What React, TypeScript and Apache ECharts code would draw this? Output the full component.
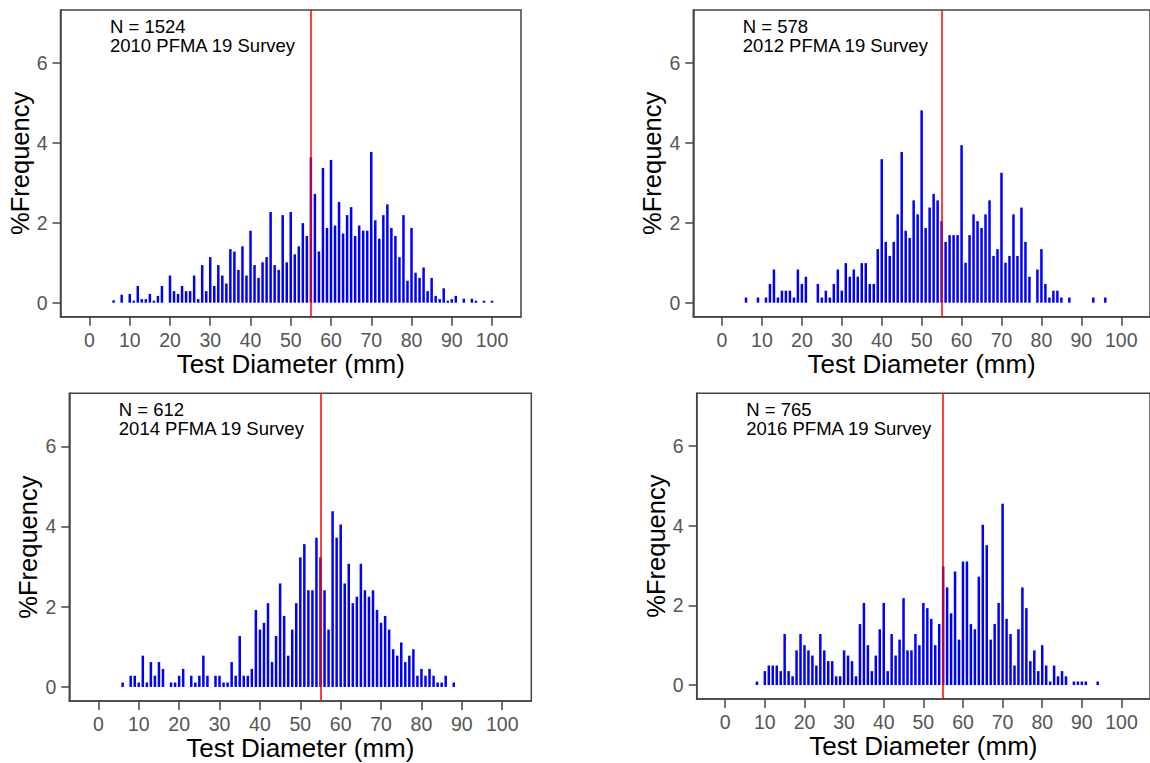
import React, { useEffect, useRef } from "react";
import * as echarts from "echarts";

// ---- Data (mm test diameter, % frequency) ----
const diam2010 = [6, 8, 10, 11, 12, 13, 14, 15, 16, 17, 18, 20, 21, 22, 23, 24, 25, 26, 27, 28, 29, 30, 31, 32, 33, 34, 35, 36, 37, 38, 39, 40, 41, 42, 43, 44, 45, 46, 47, 48, 49, 50, 51, 52, 53, 54, 55, 56, 57, 58, 59, 60, 61, 62, 63, 64, 65, 66, 67, 68, 69, 70, 71, 72, 73, 74, 75, 76, 77, 78, 79, 80, 81, 82, 83, 84, 85, 86, 87, 88, 89, 90, 91, 93, 95, 96, 98, 100];
const freq2010 = [0.06, 0.2, 0.22, 0.05, 0.42, 0.09, 0.09, 0.22, 0.05, 0.17, 0.42, 0.68, 0.29, 0.22, 0.42, 0.29, 0.29, 0.68, 0.09, 0.94, 0.29, 1.14, 0.42, 0.94, 0.68, 0.48, 1.34, 1.28, 0.82, 1.41, 0.68, 1.8, 0.94, 0.62, 1.01, 1.14, 2.27, 0.94, 0.82, 2.19, 1.01, 2.27, 1.21, 1.41, 1.99, 1.67, 3.63, 2.72, 1.28, 3.37, 1.87, 3.57, 1.93, 2.52, 1.73, 2.19, 2.39, 1.67, 1.93, 1.8, 1.8, 3.77, 2.06, 1.6, 2.19, 2.46, 1.87, 1.67, 1.14, 2.19, 0.55, 1.87, 0.75, 0.62, 0.88, 0.29, 0.62, 0.17, 0.09, 0.36, 0.05, 0.09, 0.17, 0.1, 0.1, 0.05, 0.05, 0.05];

const diam2012 = [6, 9, 11, 12, 13, 14, 15, 16, 17, 18, 19, 20, 21, 24, 25, 26, 27, 28, 29, 30, 31, 32, 33, 34, 35, 36, 37, 38, 39, 40, 41, 42, 43, 44, 45, 46, 47, 48, 49, 50, 51, 52, 53, 54, 55, 56, 57, 58, 59, 60, 61, 62, 63, 64, 65, 66, 67, 68, 69, 70, 71, 72, 73, 74, 75, 76, 77, 79, 80, 81, 82, 83, 84, 85, 87, 93, 96];
const freq2012 = [0.13, 0.13, 0.13, 0.47, 0.83, 0.13, 0.3, 0.3, 0.3, 0.13, 0.83, 0.47, 0.65, 0.47, 0.13, 0.3, 0.13, 0.47, 0.83, 0.3, 0.99, 0.65, 0.83, 0.65, 0.99, 0.99, 0.47, 0.47, 1.34, 3.59, 1.52, 1.17, 1.52, 2.21, 3.77, 1.8, 1.62, 2.56, 2.21, 4.81, 1.87, 2.38, 2.72, 2.56, 2.04, 1.52, 1.69, 1.69, 1.69, 3.94, 1.0, 1.69, 2.21, 2.04, 1.87, 2.21, 2.56, 1.17, 1.34, 3.25, 1.0, 1.17, 2.21, 1.17, 2.38, 1.52, 0.65, 0.83, 1.34, 0.47, 0.13, 0.3, 0.3, 0.13, 0.13, 0.13, 0.13];

const diam2014 = [6, 8, 9, 10, 11, 12, 13, 14, 15, 16, 18, 19, 20, 21, 23, 24, 25, 26, 27, 29, 30, 31, 32, 33, 34, 35, 36, 37, 38, 39, 40, 41, 42, 43, 44, 45, 46, 47, 48, 49, 50, 51, 52, 53, 54, 55, 56, 57, 58, 59, 60, 61, 62, 63, 64, 65, 66, 67, 68, 69, 70, 71, 72, 73, 74, 75, 76, 77, 78, 79, 80, 81, 82, 83, 84, 85, 86, 88];
const freq2014 = [0.11, 0.28, 0.28, 0.11, 0.78, 0.11, 0.62, 0.28, 0.62, 0.45, 0.11, 0.11, 0.28, 0.45, 0.28, 0.11, 0.28, 0.78, 0.28, 0.28, 0.28, 0.11, 0.11, 0.62, 0.28, 1.27, 0.28, 0.28, 0.45, 1.92, 1.43, 1.6, 2.09, 0.62, 1.27, 2.58, 1.77, 0.78, 1.43, 2.09, 3.23, 3.56, 2.41, 2.41, 3.72, 3.23, 2.41, 1.43, 4.38, 3.72, 4.05, 2.58, 3.07, 2.09, 2.25, 3.07, 2.41, 2.25, 2.41, 1.92, 1.6, 1.77, 1.43, 0.94, 0.78, 1.11, 0.62, 0.78, 0.94, 0.28, 0.45, 0.28, 0.45, 0.28, 0.11, 0.11, 0.28, 0.11];

const diam2016 = [8, 10, 11, 12, 13, 14, 15, 16, 17, 18, 19, 20, 21, 22, 23, 24, 25, 26, 27, 28, 29, 30, 31, 32, 33, 34, 35, 36, 37, 38, 39, 40, 41, 42, 43, 44, 45, 46, 47, 48, 49, 50, 51, 52, 53, 54, 55, 56, 57, 58, 59, 60, 61, 62, 63, 64, 65, 66, 67, 68, 69, 70, 71, 72, 73, 74, 75, 76, 77, 78, 79, 80, 81, 82, 83, 84, 85, 86, 88, 89, 90, 91, 94];
const freq2016 = [0.09, 0.35, 0.49, 0.49, 0.49, 0.35, 1.28, 0.35, 0.22, 0.87, 1.28, 1.0, 0.87, 0.74, 0.49, 1.28, 0.87, 0.6, 0.6, 0.22, 0.22, 0.87, 0.74, 0.6, 0.22, 1.53, 2.06, 1.0, 0.35, 0.74, 1.4, 2.06, 0.35, 1.28, 0.74, 1.14, 2.18, 0.87, 0.87, 1.28, 1.0, 2.06, 1.93, 1.66, 1.0, 1.53, 2.98, 2.45, 1.8, 2.85, 1.14, 3.1, 3.1, 1.53, 1.4, 2.72, 4.02, 3.51, 1.14, 1.53, 2.06, 4.55, 1.66, 1.28, 0.49, 1.4, 2.45, 1.93, 0.6, 0.87, 0.35, 1.0, 0.49, 0.09, 0.49, 0.22, 0.35, 0.22, 0.09, 0.09, 0.09, 0.09, 0.09];

const panelDiameters = [diam2010, diam2012, diam2014, diam2016];
const panelFrequencies = [freq2010, freq2012, freq2014, freq2016];
const panelCounts = ["N = 1524", "N = 578", "N = 612", "N = 765"];
const panelSurveys = ["2010 PFMA 19 Survey", "2012 PFMA 19 Survey", "2014 PFMA 19 Survey", "2016 PFMA 19 Survey"];
const xTickValues = [0, 10, 20, 30, 40, 50, 60, 70, 80, 90, 100];
const yTickValues = [0, 2, 4, 6];
const referenceSize = 55;
const xAxisTitle = "Test Diameter (mm)";
const yAxisTitle = "%Frequency";

// ---- Layout ----
const gridBoxes = [
  { left: 60.5, top: 10, width: 460.5, height: 306.7 },
  { left: 693.3, top: 10, width: 462.8, height: 306.7 },
  { left: 69.3, top: 393.3, width: 462, height: 307.7 },
  { left: 696.7, top: 393.3, width: 459.7, height: 305.7 },
];
const X_MIN = -7.2;
const X_MAX = 107.2;
const Y_MIN = -0.35;
const Y_MAX = 7.32;
const FONT = "'Liberation Sans', Arial, sans-serif";
const BOX = "#444444";

export default function App() {
  const ref = useRef<HTMLDivElement>(null);
  useEffect(() => {
    if (!ref.current) return;
    const chart = echarts.init(ref.current, undefined, { renderer: "svg" });
    const grid = gridBoxes.map((g) => ({
      ...g,
      show: true,
      borderColor: BOX,
      borderWidth: 1.5,
      backgroundColor: "transparent",
    }));
    const xAxis = gridBoxes.map((_, i) => ({
      type: "value",
      gridIndex: i,
      min: X_MIN,
      max: X_MAX,
      axisLine: { show: true, onZero: false, lineStyle: { color: BOX, width: 1.5 } },
      axisTick: { show: true, customValues: xTickValues, length: 9, lineStyle: { color: BOX, width: 1.5 } },
      axisLabel: { show: true, customValues: xTickValues, fontSize: 19.5, color: "#555555", margin: 13, fontFamily: FONT },
      splitLine: { show: false },
      name: xAxisTitle,
      nameLocation: "middle",
      nameGap: 33,
      nameTextStyle: { fontSize: 26, color: "#000000", fontFamily: FONT },
    }));
    const yAxis = gridBoxes.map((_, i) => ({
      type: "value",
      gridIndex: i,
      min: Y_MIN,
      max: Y_MAX,
      axisLine: { show: true, onZero: false, lineStyle: { color: BOX, width: 1.5 } },
      axisTick: { show: true, customValues: yTickValues, length: 8, lineStyle: { color: BOX, width: 1.5 } },
      axisLabel: { show: true, customValues: yTickValues, fontSize: 19.5, color: "#555555", margin: 13, fontFamily: FONT },
      splitLine: { show: false },
      name: yAxisTitle,
      nameLocation: "middle",
      nameGap: 28,
      nameTextStyle: { fontSize: 25.5, color: "#000000", fontFamily: FONT },
    }));
    const series = panelDiameters.map((d, i) => ({
      type: "bar",
      xAxisIndex: i,
      yAxisIndex: i,
      barWidth: 2.5,
      itemStyle: { color: "#0000FF" },
      data: d.map((v, k) => [v, panelFrequencies[i][k]]),
      markLine: {
        silent: true,
        symbol: "none",
        label: { show: false },
        lineStyle: { color: "#FF0000", width: 1.5, type: "solid" },
        data: [{ xAxis: referenceSize }],
      },
    }));
    const graphic = gridBoxes.map((g, i) => ({
      type: "text",
      left: g.left + 49.5,
      top: g.top + 7,
      style: {
        text: panelCounts[i] + "\n" + panelSurveys[i],
        fontSize: 18.5,
        lineHeight: 19,
        fill: "#000000",
        fontFamily: FONT,
      },
    }));
    chart.setOption({
      animation: false,
      backgroundColor: "#ffffff",
      grid,
      xAxis,
      yAxis,
      series,
      graphic,
    });
    return () => chart.dispose();
  }, []);
  return (
    <div
      ref={ref}
      style={{ position: "fixed", left: 0, top: 0, width: 1150, height: 763, background: "#fff" }}
    />
  );
}
